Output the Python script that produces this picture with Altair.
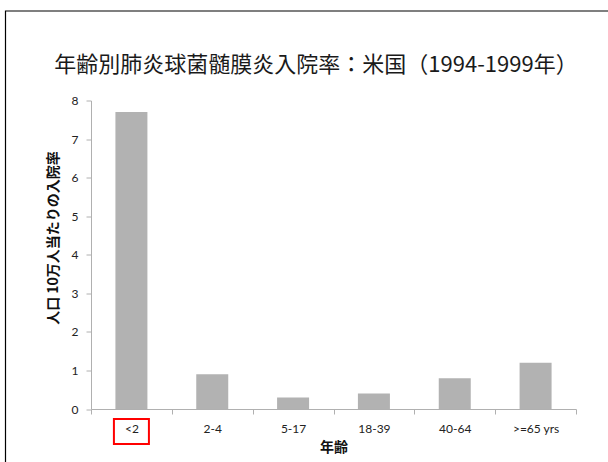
import altair as alt
import pandas as pd

categories = ["<2", "2-4", "5-17", "18-39", "40-64", ">=65 yrs"]
rates = [7.7, 0.9, 0.3, 0.4, 0.8, 1.2]
y_ticks = [0, 1, 2, 3, 4, 5, 6, 7, 8]

df = pd.DataFrame({"age": categories, "rate": rates})
hl = pd.DataFrame({"age": [categories[0]]})

FONT_CJK = "Noto Sans CJK JP"
FONT_LAT = "Lato"

x_enc = alt.X(
    "age:N",
    sort=categories,
    scale=alt.Scale(domain=categories, paddingInner=0, paddingOuter=0),
    axis=alt.Axis(
        title="年齢",
        labelAngle=0,
        tickBand="extent",
        tickSize=5,
        labelPadding=9,
        labelFontSize=12,
        labelFont=FONT_LAT,
        labelColor="#222222",
        domainColor="#b0b0b0",
        tickColor="#b0b0b0",
        titleFont=FONT_CJK,
        titleFontSize=14,
        titleFontWeight="bold",
        titleColor="#111111",
        titlePadding=6,
    ),
)

bars = alt.Chart(df).mark_bar(size=32, color="#b2b2b2").encode(
    x=x_enc,
    y=alt.Y(
        "rate:Q",
        scale=alt.Scale(domain=[0, 8], nice=False),
        axis=alt.Axis(
            title="人口 10万人当たりの入院率",
            values=y_ticks,
            grid=False,
            tickSize=5,
            labelPadding=8,
            labelFontSize=12,
            labelFont=FONT_LAT,
            labelColor="#222222",
            domainColor="#b0b0b0",
            tickColor="#b0b0b0",
            titleFont=FONT_CJK,
            titleFontSize=14,
            titleFontWeight="bold",
            titleColor="#111111",
            titleX=-31,
            titleY=137,
        ),
    ),
)

box = alt.Chart(hl).mark_bar(
    size=35, filled=False, stroke="#ff0000", strokeWidth=2
).encode(
    x=alt.X("age:N", sort=categories),
    y=alt.value(318.5),
    y2=alt.value(343.5),
)

frame = alt.Chart(hl).mark_rect(
    fill=None, stroke="#000000", strokeWidth=1.2
).encode(
    x=alt.value(-85.5),
    x2=alt.value(540),
    y=alt.value(-89.5),
    y2=alt.value(380),
)

chart = (
    alt.layer(frame, bars, box)
    .properties(
        width=485,
        height=308.5,
        autosize=alt.AutoSizeParams(type="none"),
        padding={"left": 91, "top": 100.5, "right": 32, "bottom": 53},
        background="white",
        title=alt.TitleParams(
            text="年齢別肺炎球菌髄膜炎入院率：米国（1994-1999年）",
            font=FONT_CJK,
            fontSize=22,
            fontWeight="normal",
            color="#1a1a1a",
            anchor="middle",
            frame="group",
            dx=-17.5,
            dy=67,
            offset=0,
        ),
    )
    .configure_view(stroke=None)
)

chart.save("out.html", embed_options={"renderer": "svg", "actions": False})
